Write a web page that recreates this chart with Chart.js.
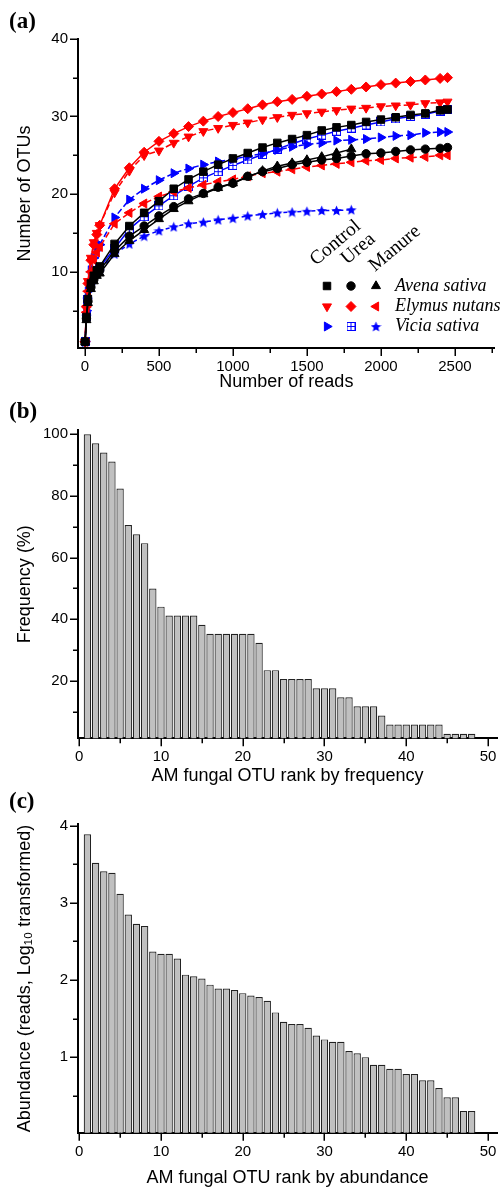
<!DOCTYPE html>
<html>
<head>
<meta charset="utf-8">
<script src="https://cdn.jsdelivr.net/npm/chart.js@4.4.1/dist/chart.umd.min.js"></script>
<style>
  body { margin: 0; background: #fff; }
  #wrap { position: relative; width: 501px; height: 1189px; }
  canvas { position: absolute; left: 0; }
</style>
</head>
<body>
<div id="wrap">
  <canvas id="rarefaction" width="501" height="395" style="top:0"></canvas>
  <canvas id="frequency" width="501" height="395" style="top:395px"></canvas>
  <canvas id="abundance" width="501" height="399" style="top:790px"></canvas>
</div>
<script>
// ---- data ----
const readsLong = [1, 10, 20, 40, 60, 80, 100, 200, 300, 400, 500, 600, 700, 800, 900, 1000, 1100, 1200, 1300, 1400, 1500, 1600, 1700, 1800, 1900, 2000, 2100, 2200, 2300, 2400, 2450];
const readsShort = [1, 10, 20, 40, 60, 80, 100, 200, 300, 400, 500, 600, 700, 800, 900, 1000, 1100, 1200, 1300, 1400, 1500, 1600, 1700, 1800];

const avenaControl = [1, 4.2, 6.5, 8.5, 9.5, 10.2, 10.7, 13.6, 15.9, 17.6, 19.1, 20.7, 21.9, 22.9, 23.8, 24.6, 25.3, 26.0, 26.6, 27.1, 27.6, 28.2, 28.6, 28.9, 29.3, 29.6, 29.9, 30.2, 30.4, 30.8, 30.9];
const avenaUrea = [1, 4.0, 6.2, 8.0, 9.0, 9.7, 10.2, 12.7, 14.6, 15.9, 17.2, 18.4, 19.4, 20.1, 20.9, 21.4, 22.3, 22.9, 23.3, 23.8, 24.1, 24.4, 24.6, 24.9, 25.2, 25.3, 25.5, 25.7, 25.8, 25.9, 26.0];
const avenaManure = [1, 3.8, 6.0, 7.8, 8.8, 9.5, 9.8, 12.3, 14.0, 15.4, 16.8, 18.1, 19.1, 20.0, 20.8, 21.4, 22.2, 23.0, 23.6, 24.0, 24.4, 24.8, 25.3, 25.8];
const elymusControl = [1, 5.3, 8.8, 11.8, 13.8, 15.0, 16.0, 20.2, 23.0, 25.0, 25.6, 26.6, 27.4, 28.1, 28.5, 28.9, 29.2, 29.6, 29.9, 30.2, 30.4, 30.6, 30.8, 31.0, 31.1, 31.3, 31.4, 31.5, 31.7, 31.8, 31.9];
const elymusUrea = [1, 5.5, 8.5, 11.5, 13.5, 14.8, 16.0, 20.7, 23.4, 25.4, 26.8, 27.8, 28.7, 29.4, 30.0, 30.5, 31.0, 31.5, 31.9, 32.2, 32.6, 32.9, 33.2, 33.5, 33.8, 34.1, 34.3, 34.5, 34.7, 34.9, 35.0];
const elymusManure = [1, 4.8, 7.5, 10.0, 11.5, 12.5, 13.2, 16.2, 17.6, 18.8, 19.7, 20.3, 20.8, 21.2, 21.6, 21.9, 22.3, 22.7, 22.9, 23.2, 23.5, 23.7, 23.9, 24.1, 24.3, 24.4, 24.6, 24.7, 24.8, 25.0, 25.0];
const viciaControl = [1, 5.0, 7.5, 10.2, 11.8, 12.8, 13.5, 17.0, 19.3, 20.7, 21.8, 22.7, 23.3, 23.8, 24.2, 24.5, 24.9, 25.2, 25.7, 26.1, 26.4, 26.6, 26.9, 27.0, 27.1, 27.3, 27.5, 27.6, 27.9, 28.0, 28.0];
const viciaUrea = [1, 4.2, 6.5, 8.5, 9.5, 10.2, 10.6, 13.0, 15.5, 17.1, 18.5, 19.8, 21.0, 22.1, 22.9, 23.7, 24.4, 25.1, 25.8, 26.5, 27.1, 27.6, 28.1, 28.5, 28.9, 29.3, 29.7, 30.0, 30.3, 30.7, 30.9];
const viciaManure = [1, 4.3, 6.5, 8.3, 9.3, 9.8, 10.2, 12.3, 13.6, 14.6, 15.3, 15.8, 16.2, 16.4, 16.7, 16.9, 17.2, 17.4, 17.6, 17.7, 17.8, 17.9, 17.9, 18.0];

const species = ['Avena sativa', 'Elymus nutans', 'Vicia sativa'];
const treatments = ['Control', 'Urea', 'Manure'];

const otuRank = [1, 2, 3, 4, 5, 6, 7, 8, 9, 10, 11, 12, 13, 14, 15, 16, 17, 18, 19, 20, 21, 22, 23, 24, 25, 26, 27, 28, 29, 30, 31, 32, 33, 34, 35, 36, 37, 38, 39, 40, 41, 42, 43, 44, 45, 46, 47, 48];
const frequencyPct = [100, 97.1, 94.1, 91.2, 82.4, 70.6, 67.6, 64.7, 50.0, 44.1, 41.2, 41.2, 41.2, 41.2, 38.2, 35.3, 35.3, 35.3, 35.3, 35.3, 35.3, 32.4, 23.5, 23.5, 20.6, 20.6, 20.6, 20.6, 17.6, 17.6, 17.6, 14.7, 14.7, 11.8, 11.8, 11.8, 8.8, 5.9, 5.9, 5.9, 5.9, 5.9, 5.9, 5.9, 2.9, 2.9, 2.9, 2.9];
const abundanceLog = [3.89, 3.52, 3.41, 3.39, 3.12, 2.85, 2.73, 2.70, 2.37, 2.34, 2.34, 2.28, 2.07, 2.05, 2.02, 1.94, 1.89, 1.89, 1.87, 1.83, 1.80, 1.78, 1.73, 1.58, 1.46, 1.43, 1.43, 1.38, 1.28, 1.23, 1.20, 1.20, 1.08, 1.05, 1.00, 0.90, 0.90, 0.85, 0.85, 0.78, 0.78, 0.70, 0.70, 0.60, 0.48, 0.48, 0.30, 0.30];

// ---- styling ----
const sans = '"Liberation Sans", Arial, sans-serif';
const serif = '"Liberation Serif", "Times New Roman", serif';
Chart.defaults.font.family = sans;
Chart.defaults.color = '#000';

const RED = '#ff0000', BLUE = '#0000ff', BLACK = '#000000';

// filled five point star
function makeStar(size, color) {
    const c = document.createElement('canvas');
    c.width = c.height = size;
    const g = c.getContext('2d');
    const R = size / 2, r = R * 0.45;
    g.beginPath();
    for (let i = 0; i < 10; i++) {
        const a = -Math.PI / 2 + i * Math.PI / 5;
        const rr = i % 2 ? r : R;
        g.lineTo(R + rr * Math.cos(a), R + 0.6 + rr * Math.sin(a));
    }
    g.closePath();
    g.fillStyle = color;
    g.fill();
    return c;
}

// open square split in four cells
function makeGridSquare(size, color) {
    const c = document.createElement('canvas');
    c.width = c.height = size;
    const g = c.getContext('2d');
    g.fillStyle = '#fff';
    g.fillRect(0, 0, size, size);
    g.strokeStyle = color;
    g.lineWidth = 1;
    g.strokeRect(0.5, 0.5, size - 1, size - 1);
    const m = Math.floor(size / 2) + 0.5;
    g.beginPath();
    g.moveTo(m, 0); g.lineTo(m, size);
    g.moveTo(0, m); g.lineTo(size, m);
    g.stroke();
    return c;
}

// one entry per species x treatment
const curves = [
    { row: 0, col: 0, x: readsLong, y: avenaControl, color: BLACK, style: 'rect', radius: 5.3, rot: 0, dash: [] },
    { row: 0, col: 1, x: readsLong, y: avenaUrea, color: BLACK, style: 'circle', radius: 4.2, rot: 0, dash: [] },
    { row: 0, col: 2, x: readsShort, y: avenaManure, color: BLACK, style: 'triangle', radius: 5.2, rot: 0, dash: [] },
    { row: 1, col: 0, x: readsLong, y: elymusControl, color: RED, style: 'triangle', radius: 5.2, rot: 180, dash: [6, 3] },
    { row: 1, col: 1, x: readsLong, y: elymusUrea, color: RED, style: 'rectRot', radius: 5, rot: 0, dash: [] },
    { row: 1, col: 2, x: readsLong, y: elymusManure, color: RED, style: 'triangle', radius: 5.2, rot: 270, dash: [6, 3] },
    { row: 2, col: 0, x: readsLong, y: viciaControl, color: BLUE, style: 'triangle', radius: 5.2, rot: 90, dash: [6, 3] },
    { row: 2, col: 1, x: readsLong, y: viciaUrea, color: BLUE, style: makeGridSquare(9, BLUE), radius: 4.5, rot: 0, dash: [] },
    { row: 2, col: 2, x: readsShort, y: viciaManure, color: BLUE, style: makeStar(11, BLUE), radius: 5, rot: 0, dash: [4, 3] },
];

// ticks on every multiple of step inside the axis range
function tickEvery(step) {
    return function (axis) {
        const out = [];
        for (let k = Math.ceil(axis.min / step - 1e-9); k * step <= axis.max + 1e-9; k++) {
            out.push({ value: +(k * step).toFixed(6) });
        }
        axis.ticks = out;
    };
}

function isMultiple(v, step) {
    return Math.abs(v / step - Math.round(v / step)) < 1e-6;
}

function panelLabel(text, y) {
    return {
        id: 'panelLabel',
        afterDraw(chart) {
            const ctx = chart.ctx;
            ctx.save();
            ctx.font = 'bold 23px ' + serif;
            ctx.fillStyle = '#000';
            ctx.textBaseline = 'alphabetic';
            ctx.fillText(text, 9, y);
            ctx.restore();
        }
    };
}

// outward tick marks: long on labelled values, short in between
const tickMarks = {
    id: 'tickMarks',
    afterDraw(chart, args, opts) {
        const ctx = chart.ctx;
        ctx.save();
        ctx.strokeStyle = '#000';
        ctx.lineWidth = 1.5;
        ['x', 'y'].forEach(id => {
            const s = chart.scales[id];
            s.ticks.forEach(t => {
                const len = isMultiple(t.value, opts[id]) ? 7 : 4;
                const p = Math.round(s.getPixelForValue(t.value)) + 0.25;
                ctx.beginPath();
                if (id === 'x') {
                    ctx.moveTo(p, s.top);
                    ctx.lineTo(p, s.top + 1 + len);
                } else {
                    ctx.moveTo(s.right, p);
                    ctx.lineTo(s.right - 1 - len, p);
                }
                ctx.stroke();
            });
        });
        ctx.restore();
    }
};

// library tick marks keep their room but are hidden; tickMarks draws the visible ones
const hiddenTicks = { offset: false, drawOnChartArea: false, tickLength: 6, tickColor: 'rgba(0,0,0,0)' };

function xAxis(min, max, minorStep, majorStep, title, boxHeight, titlePad) {
    return {
        type: 'linear',
        min: min,
        max: max,
        offset: false,
        afterBuildTicks: tickEvery(minorStep),
        afterFit: s => { s.height = boxHeight; },
        ticks: {
            autoSkip: false,
            maxRotation: 0,
            padding: 4,
            font: { size: 15 },
            callback: v => isMultiple(v, majorStep) ? String(v) : ''
        },
        grid: hiddenTicks,
        border: { color: '#000', width: 2 },
        title: { display: true, text: title, font: { size: 18 }, padding: { top: 0, bottom: titlePad } }
    };
}

function yAxis(min, max, minorStep, majorStep, title) {
    return {
        type: 'linear',
        min: min,
        max: max,
        afterBuildTicks: tickEvery(minorStep),
        afterFit: s => { s.width = 78; },
        ticks: {
            autoSkip: false,
            padding: 4,
            font: { size: 15 },
            callback: v => isMultiple(v, majorStep) ? String(Math.round(v)) : ''
        },
        grid: hiddenTicks,
        border: { color: '#000', width: 2 },
        title: { display: true, text: title, font: { size: 18 }, padding: { top: 14, bottom: 0 } }
    };
}

// legend of panel (a): rotated treatment headers, marker grid, italic species names
const treatmentLegend = {
    id: 'treatmentLegend',
    afterDraw(chart) {
        const ctx = chart.ctx;
        const colX = [327, 351, 376];
        const rowY = [286, 306.5, 326.5];
        const headX = [316, 347, 375];
        const headY = [266, 265, 272];
        ctx.save();
        ctx.fillStyle = '#000';
        ctx.font = '19.5px ' + serif;
        treatments.forEach((t, i) => {
            ctx.save();
            ctx.translate(headX[i], headY[i]);
            ctx.rotate(-40 * Math.PI / 180);
            ctx.fillText(t, 0, 0);
            ctx.restore();
        });
        curves.forEach(c => {
            ctx.fillStyle = c.color;
            ctx.strokeStyle = c.color;
            ctx.lineWidth = 1;
            Chart.helpers.drawPoint(ctx, {
                pointStyle: c.style, rotation: c.rot, radius: c.radius, borderWidth: 1
            }, colX[c.col], rowY[c.row]);
        });
        ctx.fillStyle = '#000';
        ctx.font = 'italic 18px ' + serif;
        species.forEach((s, i) => ctx.fillText(s, 395, rowY[i] + 4.5));
        ctx.restore();
    }
};

new Chart(document.getElementById('rarefaction'), {
    type: 'line',
    data: {
        datasets: curves.map(c => ({
            label: species[c.row] + ' ' + treatments[c.col],
            data: c.x.map((v, i) => ({ x: v, y: c.y[i] })),
            borderColor: c.color,
            backgroundColor: c.color,
            borderWidth: 1.5,
            borderDash: c.dash,
            pointStyle: c.style,
            pointRotation: c.rot,
            pointRadius: c.radius,
            pointBorderWidth: 1,
            tension: 0
        }))
    },
    options: {
        responsive: false,
        animation: false,
        layout: { padding: { left: 0, right: 4, top: 38.8, bottom: 0 } },
        plugins: { legend: { display: false }, tooltip: { enabled: false }, tickMarks: { x: 500, y: 10 } },
        scales: {
            x: xAxis(-47, 2769, 250, 500, 'Number of reads', 47, 2.2),
            y: yAxis(0.2, 40, 5, 10, 'Number of OTUs')
        }
    },
    plugins: [panelLabel('(a)', 28), treatmentLegend, tickMarks]
});

function barChart(id, values, yMin, yMax, yMinor, yMajor, yTitle, xTitle, top, boxHeight, titlePad, label, labelY) {
    new Chart(document.getElementById(id), {
        type: 'bar',
        data: {
            datasets: [{
                data: otuRank.map((r, i) => ({ x: r, y: values[i] })),
                backgroundColor: '#c0c0c0',
                borderColor: '#222222',
                borderWidth: 1.2,
                borderSkipped: false,
                barPercentage: 1,
                categoryPercentage: 0.9
            }]
        },
        options: {
            responsive: false,
            animation: false,
            layout: { padding: { left: 0, right: 4, top: top, bottom: 0 } },
            plugins: { legend: { display: false }, tooltip: { enabled: false }, tickMarks: { x: 10, y: yMajor } },
            scales: {
                x: xAxis(-0.15, 51.1, 5, 10, xTitle, boxHeight, titlePad),
                y: yAxis(yMin, yMax, yMinor, yMajor, yTitle)
            }
        },
        plugins: [panelLabel(label, labelY), tickMarks]
    });
}

barChart('frequency', frequencyPct, 1.4, 101.4, 10, 20, 'Frequency (%)',
    'AM fungal OTU rank by frequency', 35, 51.7, 2.7, '(b)', 23);
barChart('abundance', abundanceLog, 0.02, 4.02, 0.5, 1, 'Abundance (reads, Log\u2081\u2080 transformed)',
    'AM fungal OTU rank by abundance', 34.3, 56.3, 0.2, '(c)', 17.5);
</script>
</body>
</html>
